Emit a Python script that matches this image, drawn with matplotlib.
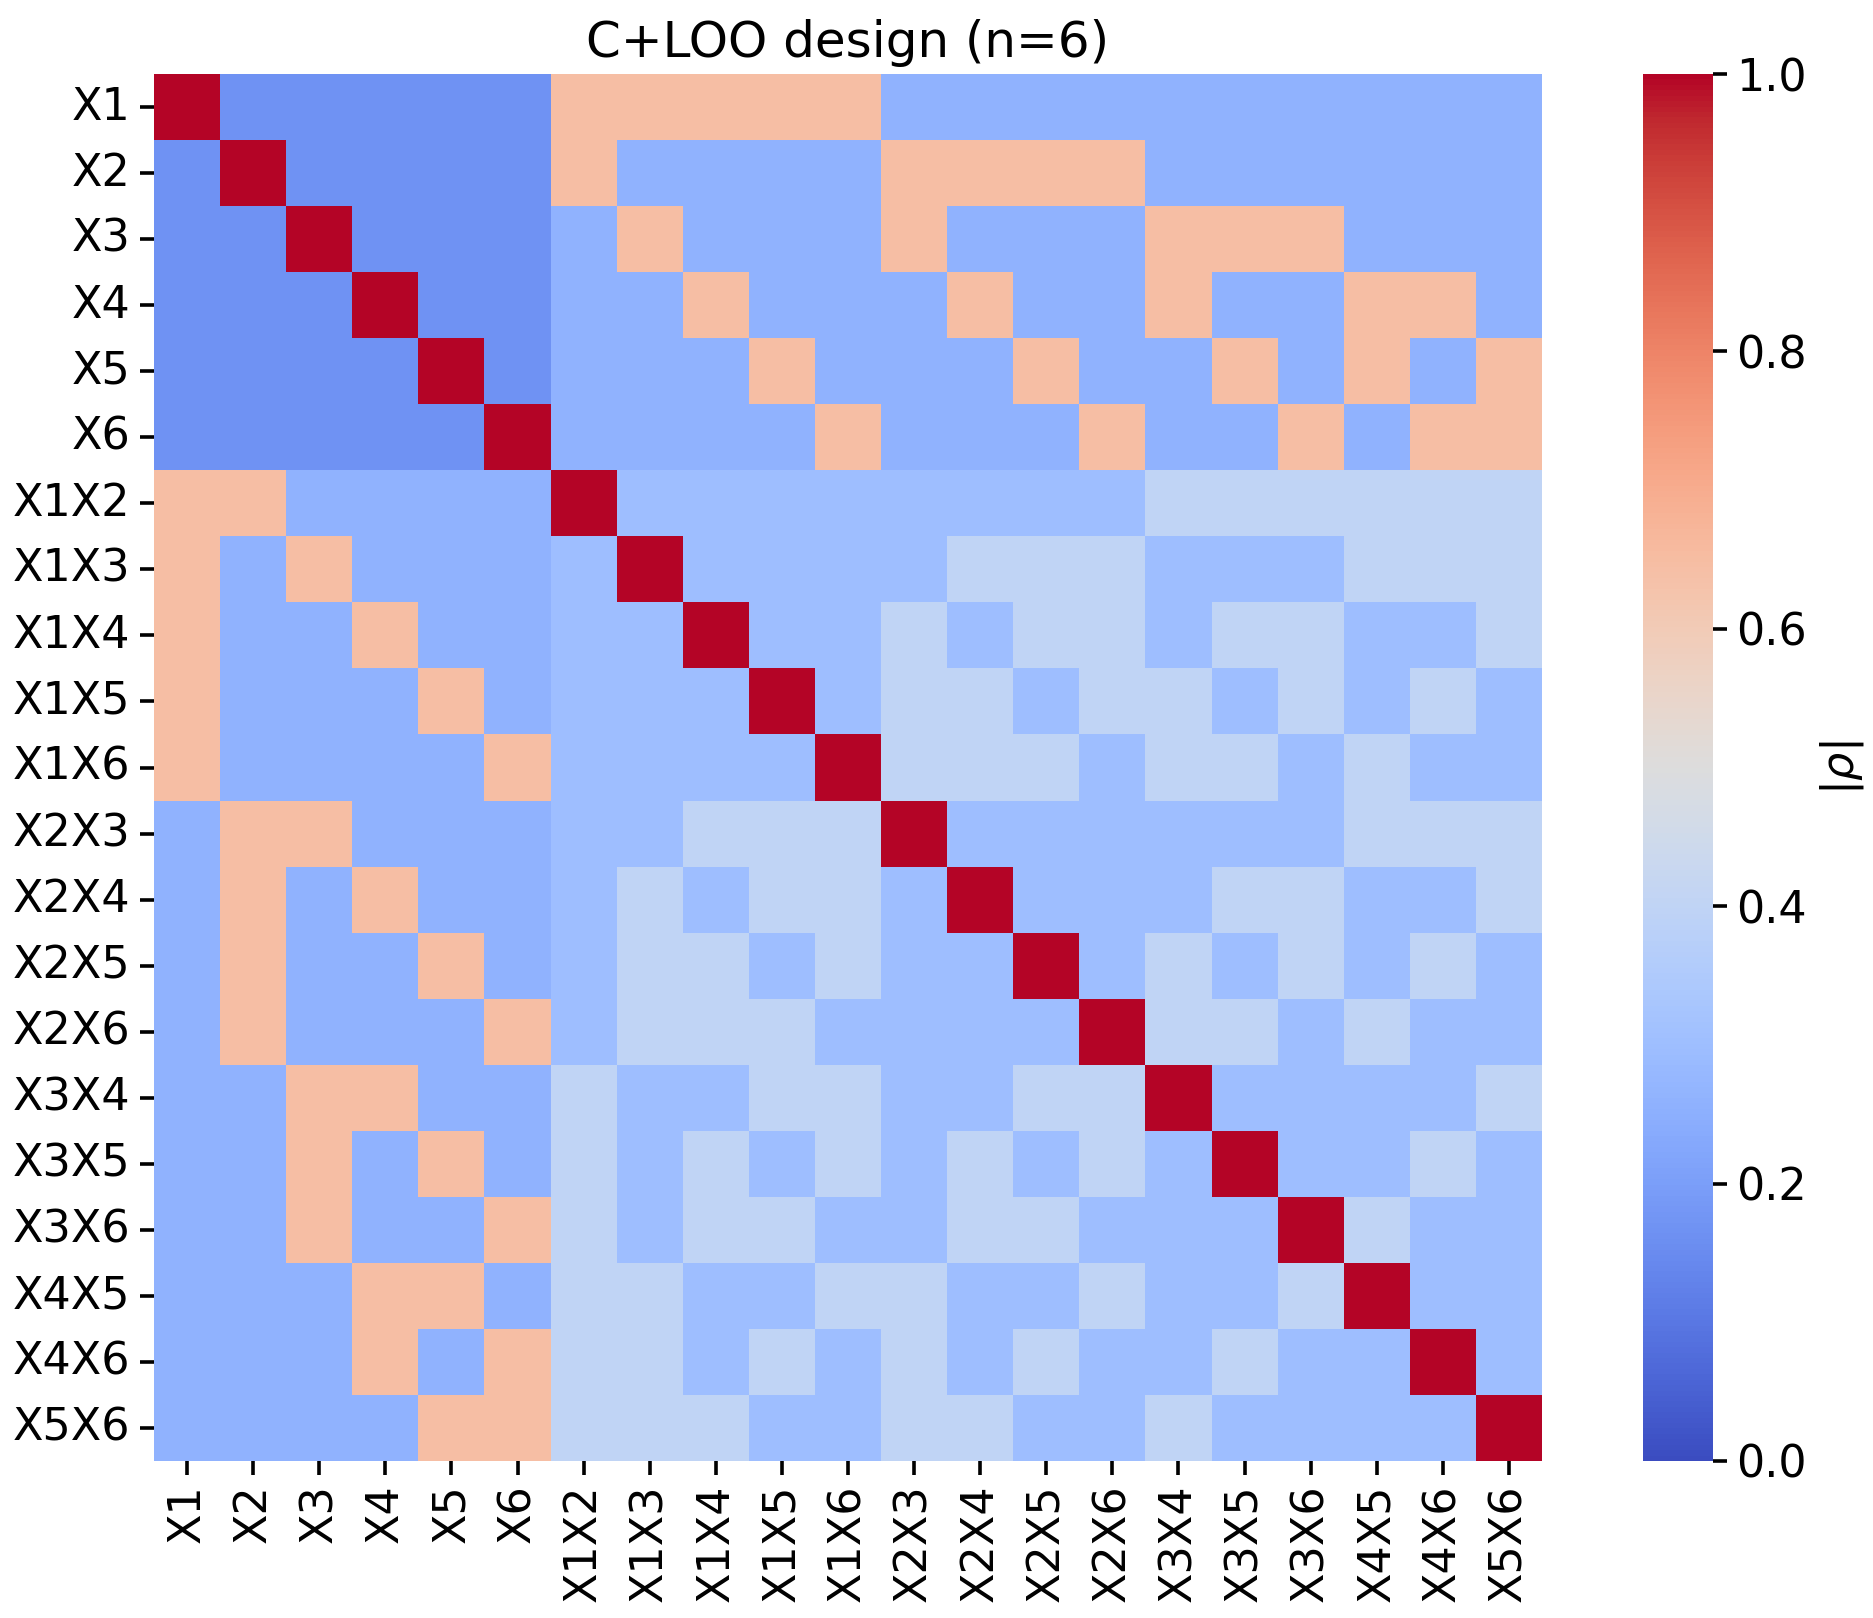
import numpy as np
import pandas as pd
import matplotlib
matplotlib.use('Agg')
import matplotlib.pyplot as plt
import seaborn as sns

# Term names (main effects + two-way interactions)
terms = ['X1', 'X2', 'X3', 'X4', 'X5', 'X6',
         'X1X2', 'X1X3', 'X1X4', 'X1X5', 'X1X6',
         'X2X3', 'X2X4', 'X2X5', 'X2X6',
         'X3X4', 'X3X5', 'X3X6',
         'X4X5', 'X4X6', 'X5X6']

# |rho| levels
levels = {'1': 1.0, 'a': 0.167, 'p': 0.645, 'b': 0.258, 'c': 0.30, 'd': 0.40}

# one string per row, one code per cell
rows = [
    '1aaaaapppppbbbbbbbbbb',
    'a1aaaapbbbbppppbbbbbb',
    'aa1aaabpbbbpbbbpppbbb',
    'aaa1aabbpbbbpbbpbbppb',
    'aaaa1abbbpbbbpbbpbpbp',
    'aaaaa1bbbbpbbbpbbpbpp',
    'ppbbbb1ccccccccdddddd',
    'pbpbbbc1ccccdddcccddd',
    'pbbpbbcc1ccdcddcddccd',
    'pbbbpbccc1cddcddcdcdc',
    'pbbbbpcccc1dddcddcdcc',
    'bppbbbccddd1ccccccddd',
    'bpbpbbcdcddc1cccddccd',
    'bpbbpbcddcdcc1cdcdcdc',
    'bpbbbpcdddcccc1ddcdcc',
    'bbppbbdccddccdd1ccccd',
    'bbpbpbdcdcdcdcdc1ccdc',
    'bbpbbpdcddccddccc1dcc',
    'bbbppbddccddccdccd1cc',
    'bbbpbpddcdcdcdccdcc1c',
    'bbbbppdddccddccdcccc1',
]

corr = pd.DataFrame([[levels[ch] for ch in r] for r in rows], index=terms, columns=terms)

W, H = 1874, 1618
fig = plt.figure(figsize=(W / 200, H / 200), dpi=200)
ax = fig.add_axes([154 / W, 1 - 1461 / H, 1388 / W, 1387 / H])
cax = fig.add_axes([1643 / W, 1 - 1461 / H, 70 / W, 1387 / H])

sns.heatmap(corr, ax=ax, cbar_ax=cax, cmap='coolwarm', vmin=0, vmax=1,
            cbar_kws={'label': r'$|\rho|$'})
ax.set_title('C+LOO design (n=6)', fontsize=18)
ax.tick_params(labelsize=16, length=5, width=1.3)
ax.set_yticklabels(terms, rotation=0)
ax.set_xticklabels(terms, rotation=90)
cax.tick_params(labelsize=16, length=5, width=1.3)
cax.yaxis.label.set_size(16)

fig.savefig('out.png', dpi=200)
